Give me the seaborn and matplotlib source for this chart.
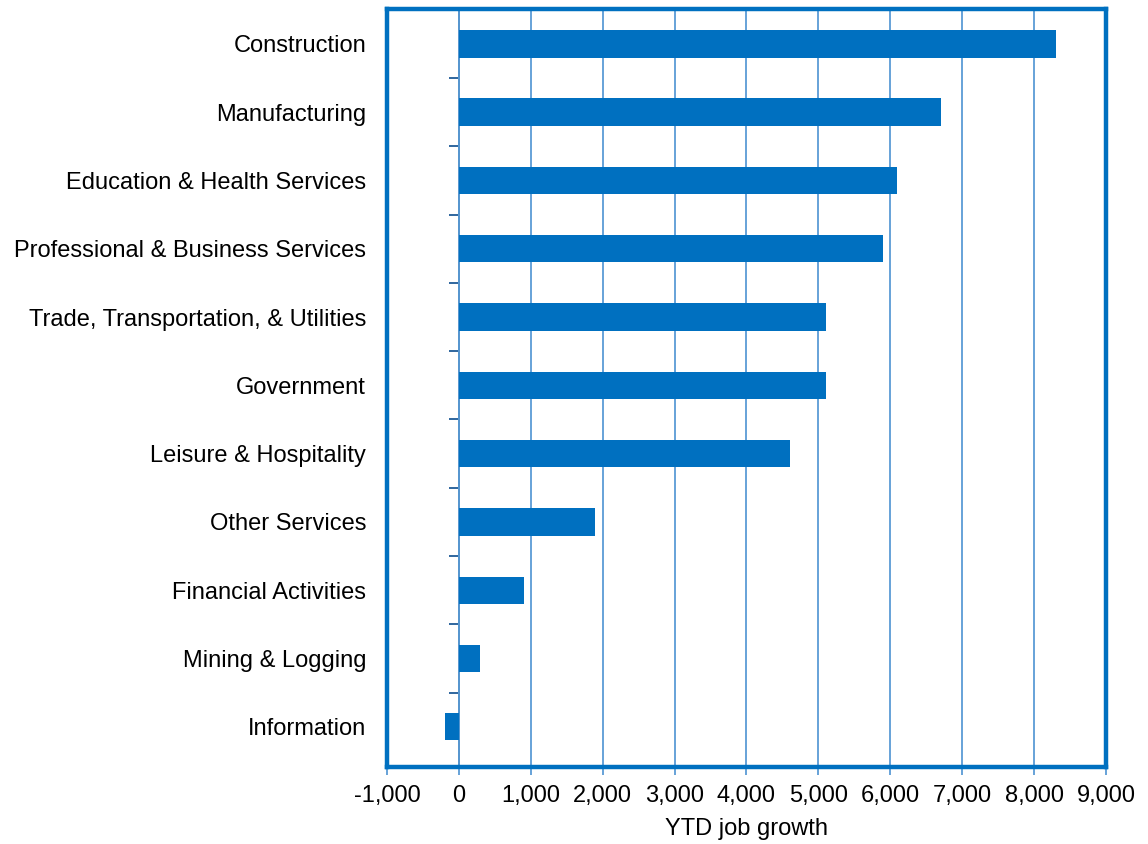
import matplotlib.pyplot as plt
import seaborn as sns
import pandas as pd

# Data
sectors = ['Construction', 'Manufacturing', 'Education & Health Services',
           'Professional & Business Services', 'Trade, Transportation, & Utilities',
           'Government', 'Leisure & Hospitality', 'Other Services',
           'Financial Activities', 'Mining & Logging', 'Information']
growth = [8300, 6700, 6100, 5900, 5100, 5100, 4600, 1900, 900, 300, -200]
x_ticks = list(range(-1000, 10000, 1000))

df = pd.DataFrame({'sector': sectors, 'growth': growth})

blue = '#0070C0'
grid_blue = '#5B9BD5'

sns.set_style('white')
plt.rcParams['font.family'] = ['Liberation Sans', 'DejaVu Sans']
plt.rcParams['text.color'] = 'black'

fig = plt.figure(figsize=(11.48, 8.44), dpi=100)
ax = fig.add_axes([0.3371, 0.0912, 0.6263, 0.8981])

ax.set_axisbelow(True)
sns.barplot(data=df, x='growth', y='sector', orient='h', color=blue,
            saturation=1, width=0.4, linewidth=0, ax=ax, zorder=2)

ax.set_xlim(-1000, 9000)
ax.set_ylim(10.59, -0.51)
ax.set_xticks(x_ticks)
ax.set_xticklabels([f'{v:,}' for v in x_ticks])
ax.xaxis.grid(True, color=grid_blue, linewidth=1.3)
ax.yaxis.grid(False)

# Frame
for s in ax.spines.values():
    s.set_color(blue)
    s.set_linewidth(3.2)
    s.set_visible(True)

ax.tick_params(axis='x', direction='out', length=6, width=1.3, color=grid_blue,
               labelsize=17, pad=7, bottom=True, labelcolor='black')
ax.tick_params(axis='y', length=0, labelsize=17, pad=15, labelcolor='black')
ax.set_ylabel('')
ax.set_xlabel('YTD job growth', fontsize=17, labelpad=8, color='black')

# Zero line with category separators
zero_frac = (0 - x_ticks[0]) / (x_ticks[-1] - x_ticks[0])
sec = ax.secondary_yaxis(zero_frac)
sec.set_yticks([i + 0.5 for i in range(len(sectors) - 1)])
sec.set_yticklabels([])
sec.spines['left'].set_color('#1F5A96')
sec.spines['left'].set_linewidth(1.3)
sec.tick_params(axis='y', direction='out', length=7, width=1.3, color='#1F5A96')

plt.savefig('out.png', dpi=100)
